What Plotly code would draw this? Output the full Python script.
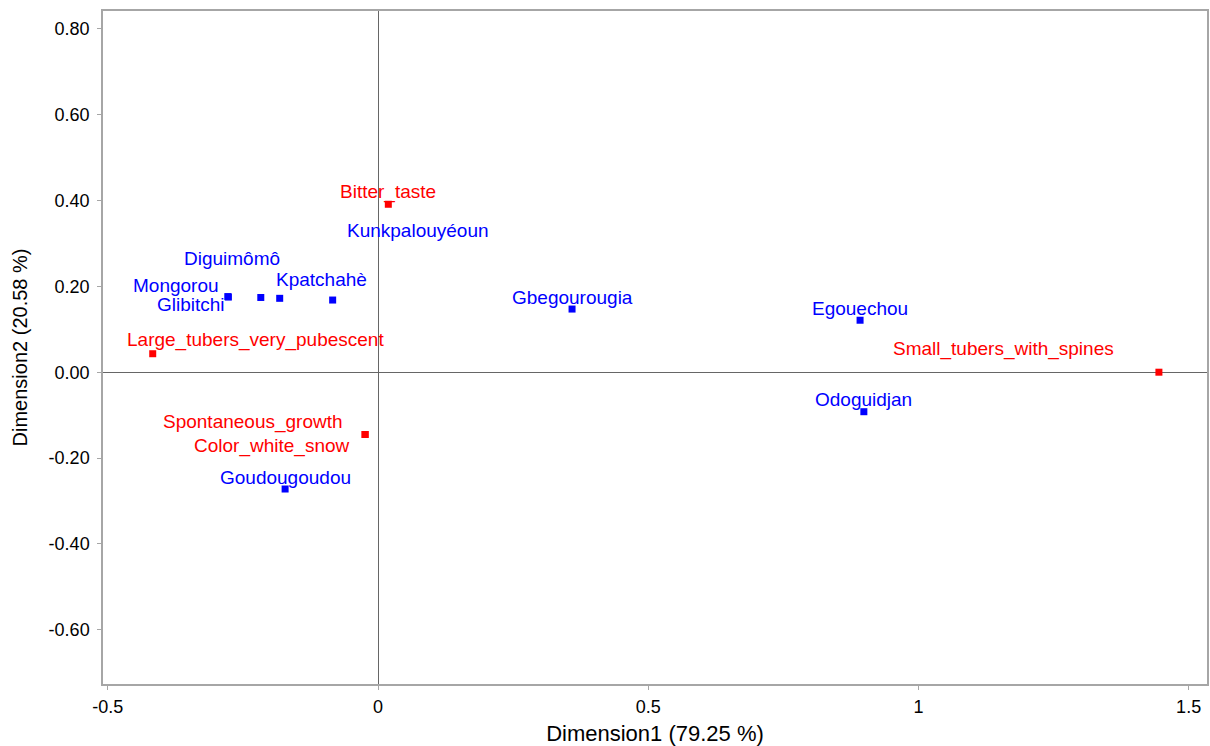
import plotly.graph_objects as go

# Data
cultivars = ["Mongorou", "Glibitchi", "Diguimômô", "Kpatchahè", "Kunkpalouyéoun",
             "Gbegourougia", "Egouechou", "Odoguidjan", "Goudougoudou"]
cult_dim1 = [-0.278, -0.277, -0.217, -0.182, -0.084, 0.359, 0.892, 0.899, -0.172]
cult_dim2 = [0.176, 0.175, 0.174, 0.172, 0.168, 0.147, 0.121, -0.092, -0.272]

attributes = ["Bitter_taste", "Large_tubers_very_pubescent", "Spontaneous_growth",
              "Color_white_snow", "Small_tubers_with_spines"]
attr_dim1 = [0.019, -0.417, -0.024, -0.024, 1.445]
attr_dim2 = [0.391, 0.043, -0.145, -0.145, 0.000]

x_ticks = [-0.5, 0, 0.5, 1, 1.5]
y_ticks = [-0.6, -0.4, -0.2, 0.0, 0.2, 0.4, 0.6, 0.8]

# label offsets in pixels (right, down) - styling only
cult_off = [(-52, -11), (-37, 7), (-29, -39), (42, -19), (85, -70),
            (0, -12), (0, -12), (0, -12), (0, -12)]
attr_off = [(0, -12), (103, -14), (-112, -12), (-93, 12), (-155, -23)]

BLUE = "#0000ff"
RED = "#ff0000"
FONT = "Liberation Sans, Arial, sans-serif"

fig = go.Figure()
fig.add_trace(go.Scatter(x=cult_dim1, y=cult_dim2, mode="markers",
                         marker=dict(symbol="square", size=7, color=BLUE),
                         hovertext=cultivars, showlegend=False))
fig.add_trace(go.Scatter(x=attr_dim1, y=attr_dim2, mode="markers",
                         marker=dict(symbol="square", size=7, color=RED),
                         hovertext=attributes, showlegend=False))

annotations = []
for name, x, y, (dx, dy) in zip(cultivars, cult_dim1, cult_dim2, cult_off):
    annotations.append(dict(x=x, y=y, xref="x", yref="y", text=name, showarrow=False,
                            xshift=dx, yshift=-dy, font=dict(family=FONT, size=19, color=BLUE)))
for name, x, y, (dx, dy) in zip(attributes, attr_dim1, attr_dim2, attr_off):
    annotations.append(dict(x=x, y=y, xref="x", yref="y", text=name, showarrow=False,
                            xshift=dx, yshift=-dy, font=dict(family=FONT, size=19, color=RED)))

axis_common = dict(showgrid=False, showline=True, linecolor="#a6a6a6", linewidth=1.5,
                   mirror=True, zeroline=True, zerolinecolor="#666666", zerolinewidth=1,
                   ticks="outside", ticklen=4, tickcolor="#a6a6a6", tickwidth=1,
                   tickfont=dict(family=FONT, size=18, color="black"))

fig.update_layout(
    width=1210, height=746,
    margin=dict(l=103, r=3, t=11, b=62),
    plot_bgcolor="white", paper_bgcolor="white",
    annotations=annotations,
    xaxis=dict(range=[-0.509, 1.534], tickvals=x_ticks,
               ticktext=[f"{v:g}" for v in x_ticks], ticklabelstandoff=2,
               title=dict(text="Dimension1 (79.25 %)", standoff=12,
                          font=dict(family=FONT, size=22, color="black")),
               automargin=False, **axis_common),
    yaxis=dict(range=[-0.726, 0.841], tickvals=y_ticks,
               ticktext=[f"{v:.2f}" for v in y_ticks], ticklabelstandoff=4,
               title=dict(text="Dimension2 (20.58 %)", standoff=16,
                          font=dict(family=FONT, size=20, color="black")),
               automargin=False, **axis_common),
)

fig.write_html("out.html", config={"displayModeBar": False},
               post_script="document.body.style.margin='0';document.body.style.overflow='hidden';")
